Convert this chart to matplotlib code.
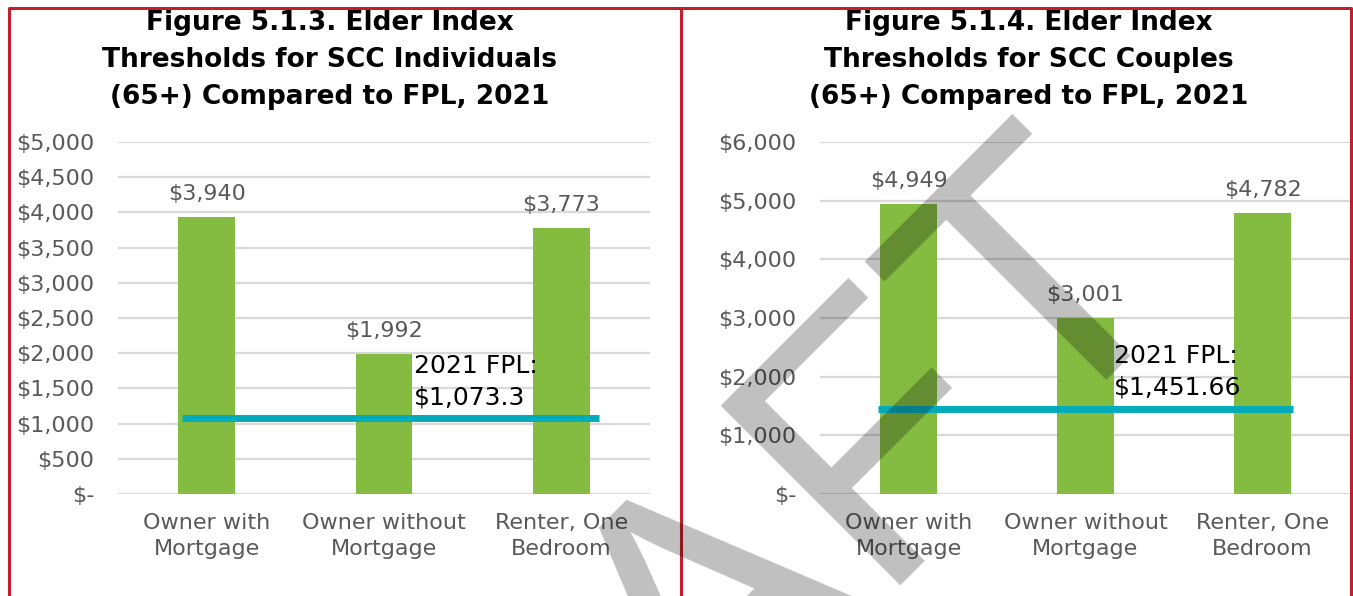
import matplotlib
matplotlib.use("Agg")
import matplotlib.pyplot as plt
import numpy as np

plt.rcParams['font.family'] = ['DejaVu Sans']

# data
categories = ["Owner with\nMortgage", "Owner without\nMortgage", "Renter, One\nBedroom"]
indiv_vals = [3940, 1992, 3773]
couple_vals = [4949, 3001, 4782]
indiv_fpl = 1073.3
couple_fpl = 1451.66
indiv_ticks = np.arange(0, 5001, 500)
couple_ticks = np.arange(0, 6001, 1000)
titles = ["Figure 5.1.3. Elder Index\nThresholds for SCC Individuals\n(65+) Compared to FPL, 2021",
          "Figure 5.1.4. Elder Index\nThresholds for SCC Couples\n(65+) Compared to FPL, 2021"]
fpl_texts = ["2021 FPL:\n$1,073.3", "2021 FPL:\n$1,451.66"]

green = '#84BC41'
teal = '#00ABBA'
grey_txt = '#595959'
grid_c = '#D9D9D9'
red = '#C0202E'

W, H = 1353, 596
fig = plt.figure(figsize=(W / 100, H / 100), dpi=100)


def fmt(v):
    return "$-" if v == 0 else "${:,.0f}".format(v)


def panel(rect, vals, fpl, ticks, fpl_txt, fpl_span, txt_x):
    ax = fig.add_axes(rect)
    x = np.arange(len(vals))
    ax.bar(x, vals, width=0.32, color=green, zorder=2)
    ax.set_xlim(-0.5, 2.5)
    ax.set_ylim(0, ticks[-1])
    ax.set_yticks(ticks)
    ax.set_yticklabels([fmt(t) for t in ticks], color=grey_txt, fontsize=16)
    ax.set_xticks(x)
    ax.set_xticklabels(categories, color=grey_txt, fontsize=16, linespacing=1.35)
    ax.tick_params(length=0, pad=14)
    ax.tick_params(axis='y', pad=17)
    for s in ax.spines.values():
        s.set_visible(False)
    ax.grid(axis='y', color=grid_c, linewidth=1.6, zorder=0)
    ax.set_axisbelow(True)
    for xi, v in zip(x, vals):
        ax.annotate(fmt(v), (xi, v), xytext=(0, 23), textcoords='offset pixels',
                    ha='center', va='center', color=grey_txt, fontsize=16)
    ax.plot(fpl_span, [fpl, fpl], color=teal, linewidth=5, solid_capstyle='butt', zorder=3)
    ax.annotate(fpl_txt, (txt_x, fpl), xytext=(0, 9), textcoords='offset pixels',
                ha='left', va='bottom', fontsize=18, color='black',
                linespacing=1.4, zorder=4)
    return ax


axL = panel([118 / W, 102 / H, 532 / W, 352 / H], indiv_vals, indiv_fpl, indiv_ticks,
            fpl_texts[0], [-0.14, 2.21], 1.17)
axR = panel([820 / W, 102 / H, 531 / W, 352 / H], couple_vals, couple_fpl, couple_ticks,
            fpl_texts[1], [-0.17, 2.17], 1.16)

fig.text(330 / W, 1 - 10 / H, titles[0], ha='center', va='top', fontsize=19,
         fontweight='bold', linespacing=1.56)
fig.text(1029 / W, 1 - 10 / H, titles[1], ha='center', va='top', fontsize=19,
         fontweight='bold', linespacing=1.56)

# overlay: borders + watermark in pixel coords
ov = fig.add_axes([0, 0, 1, 1], zorder=10)
ov.set_xlim(0, W)
ov.set_ylim(H, 0)
ov.axis('off')
ov.patch.set_alpha(0)
ov.plot([9, 9, 681, 681], [H, 8, 8, H], color=red, lw=2.2)
ov.plot([681, 1351, 1351], [8, 8, H], color=red, lw=2.2)
ov.text(755, 700, "DRAFT", rotation=45, rotation_mode='anchor', ha='center',
        va='baseline', fontsize=266, family='Liberation Sans', color='black',
        alpha=0.25)

fig.savefig("out.png", dpi=100)
